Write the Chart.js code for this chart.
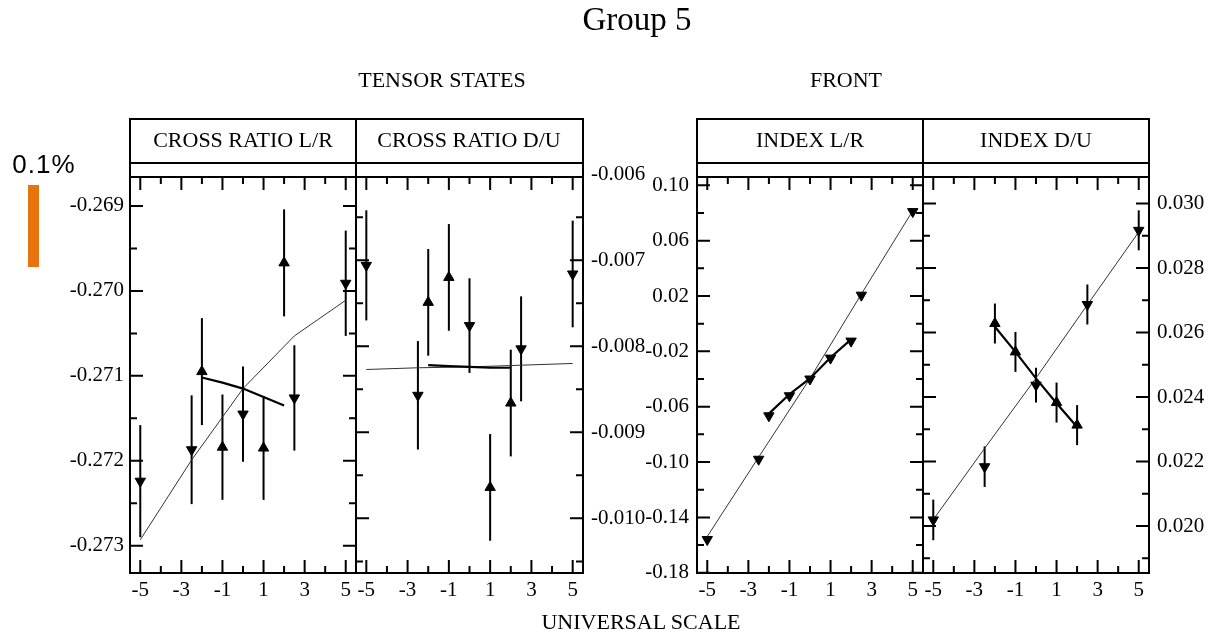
<!DOCTYPE html>
<html>
<head>
<meta charset="utf-8">
<title>Group 5</title>
<script src="https://cdn.jsdelivr.net/npm/chart.js@4.4.1/dist/chart.umd.min.js"></script>
<style>
  html, body { margin: 0; padding: 0; background: #fff; }
  body { width: 1214px; height: 635px; position: relative; overflow: hidden;
         font-family: "Liberation Serif", "Times New Roman", serif; color: #000; }
  canvas { position: absolute; left: 0; top: 0; }
  .t { position: absolute; white-space: nowrap; line-height: 1; transform: translate(-50%, -50%); }
  .h { font-size: 22px; }
  #scalebar { position: absolute; left: 28px; top: 185px; width: 11px; height: 82px; background: #e8740f; }
  #scalelabel { font-family: "Liberation Sans", Arial, sans-serif; font-size: 26px; letter-spacing: 1px; }
</style>
</head>
<body>
<canvas id="p1" width="1214" height="635"></canvas>
<canvas id="p2" width="1214" height="635"></canvas>
<canvas id="p3" width="1214" height="635"></canvas>
<canvas id="p4" width="1214" height="635"></canvas>

<div class="t" style="left:637px;top:19px;font-size:33px">Group 5</div>
<div class="t h" style="left:442px;top:80px">TENSOR STATES</div>
<div class="t h" style="left:846px;top:80px">FRONT</div>
<div class="t h" style="left:243px;top:140px">CROSS RATIO L/R</div>
<div class="t h" style="left:469px;top:140px">CROSS RATIO D/U</div>
<div class="t h" style="left:810px;top:140px">INDEX L/R</div>
<div class="t h" style="left:1036px;top:140px">INDEX D/U</div>
<div class="t h" style="left:641px;top:622px">UNIVERSAL SCALE</div>
<div class="t" id="scalelabel" style="left:44px;top:164px">0.1%</div>
<div id="scalebar"></div>

<script>
// ---- universal scale positions ----
const xDown = [-5, -2.5, 0, 2.5, 5];      // down-triangle series
const xUp = [-2, -1, 1, 2];               // up-triangle series
const xNarrow = [-2, -1, 0, 1, 2];        // short fit line
const xMajor = [-5, -3, -1, 1, 3, 5];
const xMinor = [-4, -2, 0, 2, 4];

// ---- CROSS RATIO L/R ----
const crossLRDown = [-0.27224, -0.27187, -0.27145, -0.27126, -0.26991];
const crossLRDownErr = [0.00066, 0.00064, 0.00056, 0.00062, 0.00062];
const crossLRUp = [-0.27095, -0.27184, -0.27185, -0.26967];
const crossLRUpErr = [0.00063, 0.00062, 0.00061, 0.00063];
const crossLRWide = [-0.27293, -0.27199, -0.27115, -0.27053, -0.27011];
const crossLRNarrow = [-0.27102, -0.27108, -0.27115, -0.27125, -0.27135];
const crossLRTicks = [-0.269, -0.270, -0.271, -0.272, -0.273];
const crossLRMinor = [-0.2695, -0.2705, -0.2715, -0.2725];

// ---- CROSS RATIO D/U ----
const crossDUDown = [-0.00706, -0.00857, -0.00776, -0.00803, -0.00716];
const crossDUDownErr = [0.00064, 0.00063, 0.00055, 0.00061, 0.00062];
const crossDUUp = [-0.00749, -0.00720, -0.00964, -0.00866];
const crossDUUpErr = [0.00062, 0.00062, 0.00062, 0.00062];
const crossDUWide = [-0.00827, -0.00825, -0.00824, -0.00822, -0.00820];
const crossDUNarrow = [-0.00822, -0.00823, -0.00824, -0.00825, -0.00825];
const crossDUTicks = [-0.006, -0.007, -0.008, -0.009, -0.010];
const crossDUMinor = [-0.0065, -0.0075, -0.0085, -0.0095, -0.0105];

// ---- INDEX L/R ----
const indexLRDown = [-0.156, -0.098, -0.040, 0.0206, 0.081];
const indexLRInner = [-0.0666, -0.0521, -0.0249, -0.0126];
const indexLRWide = [-0.1538, -0.0965, -0.0396, 0.0214, 0.0816];
const indexLRNarrow = [-0.065, -0.051, -0.0396, -0.0244, -0.0114];
const indexLRTicks = [0.10, 0.06, 0.02, -0.02, -0.06, -0.10, -0.14, -0.18];
const indexLRMinor = [0.08, 0.04, 0.00, -0.04, -0.08, -0.12, -0.16];

// ---- INDEX D/U ----
const indexDUDown = [0.02019, 0.02184, 0.02437, 0.02687, 0.02917];
const indexDUDownErr = [0.00063, 0.00063, 0.00054, 0.00062, 0.00062];
const indexDUUp = [0.02628, 0.02540, 0.02383, 0.02313];
const indexDUUpErr = [0.00062, 0.00062, 0.00062, 0.00062];
const indexDUWide = [0.0202, 0.02241, 0.02459, 0.02686, 0.02912];
const indexDUNarrow = [0.02618, 0.02540, 0.02458, 0.02381, 0.02307];
const indexDUTicks = [0.030, 0.028, 0.026, 0.024, 0.022, 0.020];
const indexDUMinor = [0.029, 0.027, 0.025, 0.023, 0.021, 0.019];

const pts = (xs, ys) => xs.map((x, i) => ({ x, y: ys[i] }));

// frame, inward ticks on all four sides, header box and error bars
const panelPlugin = {
  id: 'panel',
  beforeDatasetsDraw(chart) {
    const { ctx, scales: { x, y } } = chart;
    ctx.save();
    ctx.strokeStyle = '#000';
    ctx.lineWidth = 2;
    ctx.lineCap = 'butt';
    chart.data.datasets.forEach(ds => {
      if (!ds.errors) return;
      ds.data.forEach((p, i) => {
        const px = x.getPixelForValue(p.x);
        ctx.beginPath();
        ctx.moveTo(px, y.getPixelForValue(p.y - ds.errors[i]));
        ctx.lineTo(px, y.getPixelForValue(p.y + ds.errors[i]));
        ctx.stroke();
      });
    });
    ctx.restore();
  },
  afterDraw(chart, args, o) {
    const { ctx, chartArea: a, scales: { x, y } } = chart;
    ctx.save();
    ctx.strokeStyle = '#000';
    ctx.lineWidth = 2;
    ctx.strokeRect(a.left, a.top, a.right - a.left, a.bottom - a.top);
    ctx.strokeRect(a.left, o.headTop, a.right - a.left, o.headBottom - o.headTop);
    ctx.beginPath();
    ctx.moveTo(a.left, o.headBottom); ctx.lineTo(a.left, a.top);
    ctx.moveTo(a.right, o.headBottom); ctx.lineTo(a.right, a.top);
    const xt = (vals, len) => vals.forEach(v => {
      const px = x.getPixelForValue(v);
      ctx.moveTo(px, a.bottom); ctx.lineTo(px, a.bottom - len);
      ctx.moveTo(px, a.top); ctx.lineTo(px, a.top + len);
    });
    const yt = (vals, len) => vals.forEach(v => {
      if (v < y.min || v > y.max) return;
      const py = y.getPixelForValue(v);
      ctx.moveTo(a.left, py); ctx.lineTo(a.left + len, py);
      ctx.moveTo(a.right, py); ctx.lineTo(a.right - len, py);
    });
    xt(o.xMajor, 13); xt(o.xMinor, 7);
    yt(o.yMajor, 13); yt(o.yMinor, 7);
    ctx.stroke();
    ctx.restore();
  }
};

const AXIS_W = 80, AXIS_H = 30, W = 1214, H = 635;
const PLOT_TOP = 177, PLOT_BOTTOM = 573;
const tickFont = { family: 'Liberation Serif', size: 21 };

function markerSet(xs, ys, errs, down) {
  return {
    data: pts(xs, ys), errors: errs, showLine: false,
    pointStyle: 'triangle', rotation: down ? 180 : 0,
    pointRadius: 6, pointBorderWidth: 1,
    pointBackgroundColor: '#000', pointBorderColor: '#000'
  };
}
function lineSet(xs, ys, width, color) {
  return {
    data: pts(xs, ys), showLine: true, pointRadius: 0,
    borderColor: color, borderWidth: width, tension: 0
  };
}

function panel(id, cfg) {
  const leftAxis = cfg.side === 'left';
  new Chart(document.getElementById(id), {
    type: 'scatter',
    data: { datasets: cfg.datasets },
    options: {
      responsive: false, animation: false, devicePixelRatio: 1,
      layout: { padding: {
        left: leftAxis ? cfg.left - AXIS_W : cfg.left,
        right: leftAxis ? W - cfg.right : W - cfg.right - AXIS_W,
        top: PLOT_TOP, bottom: H - PLOT_BOTTOM - AXIS_H } },
      plugins: {
        legend: { display: false }, tooltip: { enabled: false },
        panel: { headTop: 119, headBottom: 163, xMajor, xMinor, yMajor: cfg.ticks, yMinor: cfg.minor }
      },
      scales: {
        x: {
          type: 'linear', position: 'bottom', min: -5.5, max: 5.5,
          grid: { display: false, drawTicks: false }, border: { display: false },
          afterBuildTicks: s => { s.ticks = xMajor.map(v => ({ value: v })); },
          afterFit: s => { s.height = AXIS_H; },
          ticks: { font: tickFont, color: '#000', padding: 5, maxRotation: 0, autoSkip: false,
                   callback: v => String(v) }
        },
        y: {
          type: 'linear', position: cfg.side, min: cfg.min, max: cfg.max,
          grid: { display: false, drawTicks: false }, border: { display: false },
          afterBuildTicks: s => { s.ticks = cfg.ticks.map(v => ({ value: v })); },
          afterFit: s => { s.width = AXIS_W; },
          ticks: { font: tickFont, color: '#000', padding: cfg.pad, autoSkip: false,
                   callback: v => v.toFixed(cfg.dec) }
        }
      }
    },
    plugins: [panelPlugin]
  });
}

panel('p1', {
  left: 130, right: 356, side: 'left', min: -0.273321, max: -0.268659,
  ticks: crossLRTicks, minor: crossLRMinor, dec: 3, pad: 6,
  datasets: [
    markerSet(xDown, crossLRDown, crossLRDownErr, true),
    markerSet(xUp, crossLRUp, crossLRUpErr, false),
    lineSet(xNarrow, crossLRNarrow, 2.2, '#000'),
    lineSet(xDown, crossLRWide, 1, '#333')
  ]
});
panel('p2', {
  left: 356, right: 583, side: 'right', min: -0.010635, max: -0.006033,
  ticks: crossDUTicks, minor: crossDUMinor, dec: 3, pad: 8,
  datasets: [
    markerSet(xDown, crossDUDown, crossDUDownErr, true),
    markerSet(xUp, crossDUUp, crossDUUpErr, false),
    lineSet(xNarrow, crossDUNarrow, 2.2, '#000'),
    lineSet(xDown, crossDUWide, 1, '#333')
  ]
});
panel('p3', {
  left: 697, right: 923, side: 'left', min: -0.1802, max: 0.106,
  ticks: indexLRTicks, minor: indexLRMinor, dec: 2, pad: 8,
  datasets: [
    markerSet(xDown, indexLRDown, null, true),
    markerSet(xUp, indexLRInner, null, true),
    lineSet(xNarrow, indexLRNarrow, 2.2, '#000'),
    lineSet(xDown, indexLRWide, 1, '#333')
  ]
});
panel('p4', {
  left: 923, right: 1149, side: 'right', min: 0.018544, max: 0.030824,
  ticks: indexDUTicks, minor: indexDUMinor, dec: 3, pad: 8,
  datasets: [
    markerSet(xDown, indexDUDown, indexDUDownErr, true),
    markerSet(xUp, indexDUUp, indexDUUpErr, false),
    lineSet(xNarrow, indexDUNarrow, 2.2, '#000'),
    lineSet(xDown, indexDUWide, 1, '#333')
  ]
});
</script>
</body>
</html>
